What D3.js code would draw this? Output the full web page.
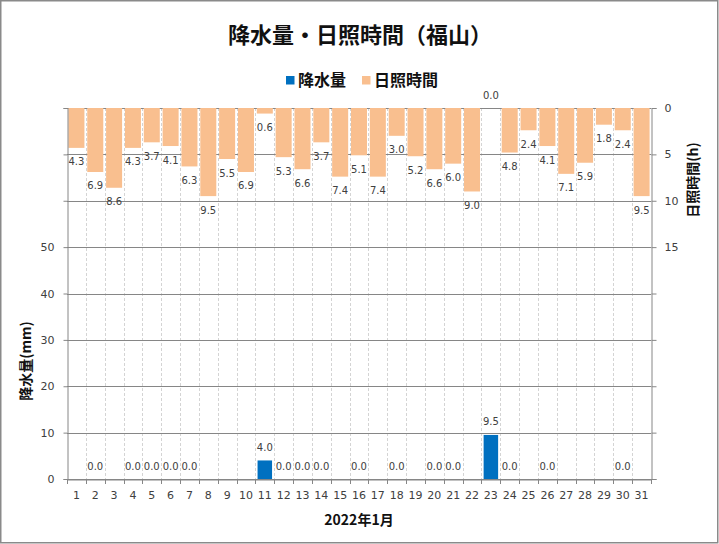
<!DOCTYPE html>
<html><head><meta charset="utf-8">
<script src="https://cdn.jsdelivr.net/npm/d3@7/dist/d3.min.js"></script>
<style>
html,body{margin:0;padding:0;background:#fff;}
svg{display:block;}
</style></head>
<body>
<script>
const days = d3.range(1, 32).map(String);
const precipitation = [null,0.0,null,0.0,0.0,0.0,0.0,null,null,null,4.0,0.0,0.0,0.0,null,0.0,null,0.0,null,0.0,0.0,null,9.5,0.0,null,0.0,null,null,null,0.0,null];
const sunshine = [4.3,6.9,8.6,4.3,3.7,4.1,6.3,9.5,5.5,6.9,0.6,5.3,6.6,3.7,7.4,5.1,7.4,3.0,5.2,6.6,6.0,9.0,0.0,4.8,2.4,4.1,7.1,5.9,1.8,2.4,9.5];
const leftTicks = [0,10,20,30,40,50,60,70,80];
const leftLabels = [0,10,20,30,40,50];
const rightTicks = [0,5,10,15,20,25,30,35,40];
const rightLabels = [0,5,10,15];
const title = "降水量・日照時間（福山）";
const seriesNames = ["降水量", "日照時間"];
const colors = ["#0070C0", "#F9BF8F"];

const W = 719, H = 544;
const L = 67, R = 651, T = 108, B = 479;
const cjk = "'Noto Sans CJK JP', 'Noto Sans', sans-serif";
const num = "'DejaVu Sans', Verdana, sans-serif";
const txt = "#404040";

const precipData = precipitation.map((v, i) => ({day: days[i], v})).filter(d => d.v !== null);
const sunData = sunshine.map((v, i) => ({day: days[i], v}));

const svg = d3.select("body").append("svg").attr("width", W).attr("height", H);
svg.append("rect").attr("x",0.75).attr("y",0.75).attr("width",W-2).attr("height",H-2)
  .attr("fill","#fff").attr("stroke","#8a8a8a").attr("stroke-width",1.5);

const x = d3.scaleBand().domain(days).range([L, R]).paddingInner(0).paddingOuter(0);
const yL = d3.scaleLinear().domain([0, 80]).range([B, T]);
const yR = d3.scaleLinear().domain([0, 40]).range([T, B]);

// vertical dashed gridlines
const g = svg.append("g");
g.selectAll("line.v").data(days.slice(1)).join("line")
  .attr("x1", d => Math.round(x(d))+0.5).attr("x2", d => Math.round(x(d))+0.5).attr("y1", T).attr("y2", B)
  .attr("stroke", "#d4d4d4").attr("stroke-dasharray", "3,2").attr("stroke-width", 1);
// horizontal gridlines
g.selectAll("line.h").data(leftTicks).join("line")
  .attr("x1", L).attr("x2", R).attr("y1", d => Math.round(yL(d))+0.5).attr("y2", d => Math.round(yL(d))+0.5)
  .attr("stroke", "#868686").attr("stroke-width", 1);

// sunshine bars (reversed axis, hanging from top)
const sw = 0.85, pw = 0.77;
svg.append("g").selectAll("rect").data(sunData).join("rect")
  .attr("x", d => x(d.day) + x.bandwidth()*(1-sw)/2)
  .attr("width", x.bandwidth()*sw)
  .attr("y", yR(0))
  .attr("height", d => yR(d.v) - yR(0))
  .attr("fill", colors[1]);

// precipitation bars
svg.append("g").selectAll("rect").data(precipData).join("rect")
  .attr("x", d => x(d.day) + x.bandwidth()*(1-pw)/2)
  .attr("width", x.bandwidth()*pw)
  .attr("y", d => yL(d.v))
  .attr("height", d => B - yL(d.v))
  .attr("fill", colors[0]);

// axes
const axL = d3.axisLeft(yL).tickValues(leftTicks).tickSize(4)
  .tickFormat(d => leftLabels.includes(d) ? d : "");
const gL = svg.append("g").attr("transform", `translate(${L+0.5},0)`).call(axL);
const axR = d3.axisRight(yR).tickValues(rightTicks).tickSize(5)
  .tickFormat(d => rightLabels.includes(d) ? d : "");
const gR = svg.append("g").attr("transform", `translate(${R+0.5},0)`).call(axR);
const axB = d3.axisBottom(x).tickSize(0);
const gB = svg.append("g").attr("transform", `translate(0,${B+0.5})`).call(axB);
[gL, gR, gB].forEach(a => {
  a.select(".domain").attr("stroke", "#868686");
  a.selectAll(".tick line").attr("stroke", "#868686");
  a.selectAll("text").attr("fill", txt).style("font-family", num).style("font-size", "11px");
});
gL.selectAll("text").attr("x", -13);
gR.selectAll("text").attr("x", 13);
gB.selectAll("text").attr("y", 12);
// x-axis boundary ticks
svg.append("g").selectAll("line").data(days.concat(["end"])).join("line")
  .attr("x1", (d,i) => Math.round(i < days.length ? x(d) : R)+0.5).attr("x2", (d,i) => Math.round(i < days.length ? x(d) : R)+0.5)
  .attr("y1", B).attr("y2", B + 5).attr("stroke", "#868686");

// data labels: sunshine
svg.append("g").selectAll("text").data(sunData).join("text")
  .attr("x", d => x(d.day) + x.bandwidth()/2)
  .attr("y", d => d.v === 0 ? T - 13 : yR(d.v) + 14)
  .attr("text-anchor", "middle").attr("dominant-baseline", "central")
  .style("font-family", num).style("font-size", "10px").attr("fill", txt)
  .text(d => d3.format(".1f")(d.v));
// data labels: precipitation
svg.append("g").selectAll("text").data(precipData).join("text")
  .attr("x", d => x(d.day) + x.bandwidth()/2)
  .attr("y", d => yL(d.v) - 13)
  .attr("text-anchor", "middle").attr("dominant-baseline", "central")
  .style("font-family", num).style("font-size", "10px").attr("fill", txt)
  .text(d => d3.format(".1f")(d.v));

// title
svg.append("text").attr("x", 360).attr("y", 33).attr("text-anchor", "middle")
  .attr("dominant-baseline", "central")
  .style("font-family", cjk).style("font-size", "22px").style("font-weight", "bold")
  .attr("fill", "#111").text(title);

// legend
const leg = svg.append("g");
const legItems = [{x: 286, name: seriesNames[0], c: colors[0]}, {x: 362, name: seriesNames[1], c: colors[1]}];
legItems.forEach(it => {
  leg.append("rect").attr("x", it.x).attr("y", 76).attr("width", 8.5).attr("height", 8.5).attr("fill", it.c);
  leg.append("text").attr("x", it.x + 12).attr("y", 79).attr("dominant-baseline", "central")
    .style("font-family", cjk).style("font-size", "16px").style("font-weight", "bold")
    .attr("fill", "#111").text(it.name);
});

// axis titles
svg.append("text").attr("transform", "translate(25,361) rotate(-90)").attr("text-anchor", "middle")
  .attr("dominant-baseline", "central")
  .style("font-family", cjk).style("font-size", "14px").style("font-weight", "bold")
  .attr("fill", "#111").text("降水量(mm)");
svg.append("text").attr("transform", "translate(692,180) rotate(-90)").attr("text-anchor", "middle")
  .attr("dominant-baseline", "central")
  .style("font-family", cjk).style("font-size", "14px").style("font-weight", "bold")
  .attr("fill", "#111").text("日照時間(h)");
svg.append("text").attr("x", 359).attr("y", 519).attr("text-anchor", "middle")
  .attr("dominant-baseline", "central")
  .style("font-family", cjk).style("font-size", "14px").style("font-weight", "bold")
  .attr("fill", "#111").text("2022年1月");
</script>
</body></html>
